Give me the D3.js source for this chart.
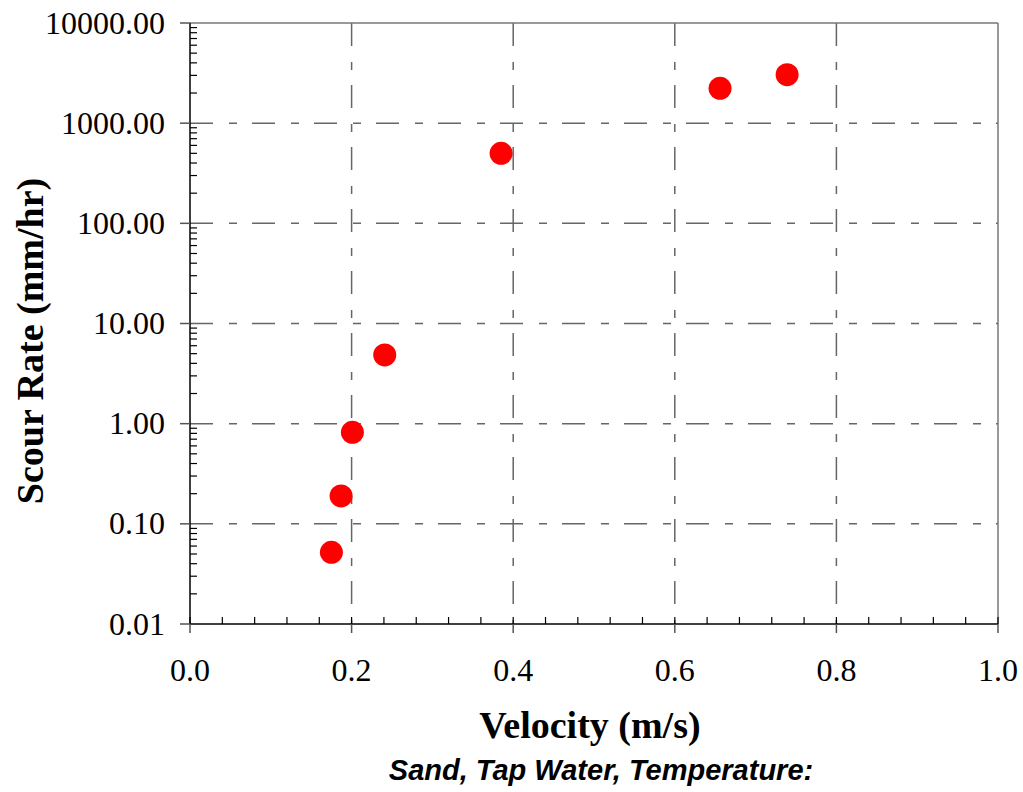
<!DOCTYPE html>
<html>
<head>
<meta charset="utf-8">
<script src="https://cdn.jsdelivr.net/npm/d3@7"></script>
<style>
  body { margin: 0; background: #fff; }
  svg { display: block; }
</style>
</head>
<body>
<svg id="chart" width="1023" height="792"></svg>
<script>
// Scour rate vs velocity (sand, tap water)
const velocity = [0.175, 0.187, 0.201, 0.241, 0.385, 0.656, 0.739];
const scourRate = [0.052, 0.19, 0.82, 4.85, 500, 2230, 3050];
const xTicks = [0, 0.2, 0.4, 0.6, 0.8, 1.0];
const yTicks = [0.01, 0.1, 1, 10, 100, 1000, 10000];

const svg = d3.select("#chart");
const plotL = 190, plotR = 998, plotT = 23, plotB = 624;

const x = d3.scaleLinear().domain([0, 1]).range([plotL, plotR]);
const y = d3.scaleLog().domain([0.01, 10000]).range([plotB, plotT]);

const gridDash = "23,16,8,15";
const serif = "Liberation Serif, Times New Roman, serif";

// grid
const g = svg.append("g");
g.selectAll(".hgrid").data(yTicks.slice(1, -1)).enter().append("line")
  .attr("x1", plotL).attr("x2", plotR)
  .attr("y1", d => y(d)).attr("y2", d => y(d))
  .attr("stroke", "#666").attr("stroke-width", 1.5)
  .attr("stroke-dasharray", gridDash);
g.selectAll(".vgrid").data(xTicks.slice(1, -1)).enter().append("line")
  .attr("x1", d => x(d)).attr("x2", d => x(d))
  .attr("y1", plotT).attr("y2", plotB)
  .attr("stroke", "#666").attr("stroke-width", 1.5)
  .attr("stroke-dasharray", gridDash);

// frame top / right
g.append("line").attr("x1", plotL).attr("x2", plotR).attr("y1", plotT).attr("y2", plotT)
  .attr("stroke", "#777").attr("stroke-width", 1.5);
g.append("line").attr("x1", plotR).attr("x2", plotR).attr("y1", plotT).attr("y2", plotB)
  .attr("stroke", "#777").attr("stroke-width", 1.5);

// x axis
const xMinor = d3.range(0, 1.0001, 0.04);
g.append("line").attr("x1", plotL).attr("x2", plotR).attr("y1", plotB).attr("y2", plotB)
  .attr("stroke", "#000").attr("stroke-width", 1.5);
g.selectAll(".xminor").data(xMinor).enter().append("line")
  .attr("x1", d => x(d)).attr("x2", d => x(d))
  .attr("y1", plotB - 7).attr("y2", plotB)
  .attr("stroke", "#000").attr("stroke-width", 1.2);
g.selectAll(".xmajor").data(xTicks).enter().append("line")
  .attr("x1", d => x(d)).attr("x2", d => x(d))
  .attr("y1", plotB).attr("y2", plotB + 9)
  .attr("stroke", "#555").attr("stroke-width", 1.5);
g.selectAll(".xlab").data(xTicks).enter().append("text")
  .attr("x", d => x(d)).attr("y", plotB + 57)
  .attr("text-anchor", "middle")
  .attr("font-family", serif)
  .attr("font-size", 32)
  .text(d => d3.format(".1f")(d));

// y axis
const yMinor = [];
for (let e = -2; e < 4; e++) {
  for (let k = 2; k <= 9; k++) yMinor.push(k * Math.pow(10, e));
}
g.append("line").attr("x1", plotL).attr("x2", plotL).attr("y1", plotT).attr("y2", plotB)
  .attr("stroke", "#000").attr("stroke-width", 1.5);
g.selectAll(".yminor").data(yMinor).enter().append("line")
  .attr("x1", plotL).attr("x2", plotL + 7)
  .attr("y1", d => y(d)).attr("y2", d => y(d))
  .attr("stroke", "#000").attr("stroke-width", 1.2);
g.selectAll(".ymajor").data(yTicks).enter().append("line")
  .attr("x1", plotL - 10).attr("x2", plotL)
  .attr("y1", d => y(d)).attr("y2", d => y(d))
  .attr("stroke", "#555").attr("stroke-width", 1.5);
g.selectAll(".ylab").data(yTicks).enter().append("text")
  .attr("x", plotL - 25).attr("y", d => y(d) + 10.5)
  .attr("text-anchor", "end")
  .attr("font-family", serif)
  .attr("font-size", 32)
  .text(d => d3.format(".2f")(d));

// points
g.selectAll(".pt").data(velocity).enter().append("circle")
  .attr("cx", d => x(d))
  .attr("cy", (d, i) => y(scourRate[i]))
  .attr("r", 11.5)
  .attr("fill", "#ff0000");

// titles
svg.append("text")
  .attr("x", 590).attr("y", 738)
  .attr("text-anchor", "middle")
  .attr("font-family", serif)
  .attr("font-weight", "bold").attr("font-size", 38)
  .text("Velocity (m/s)");
svg.append("text")
  .attr("x", 601).attr("y", 780)
  .attr("text-anchor", "middle")
  .attr("font-family", "Liberation Sans, Arial, sans-serif")
  .attr("font-weight", "bold").attr("font-style", "italic").attr("font-size", 29)
  .text("Sand, Tap Water, Temperature:");
svg.append("text")
  .attr("transform", "translate(43,341) rotate(-90)")
  .attr("text-anchor", "middle")
  .attr("font-family", serif)
  .attr("font-weight", "bold").attr("font-size", 38)
  .text("Scour Rate (mm/hr)");
</script>
</body>
</html>
